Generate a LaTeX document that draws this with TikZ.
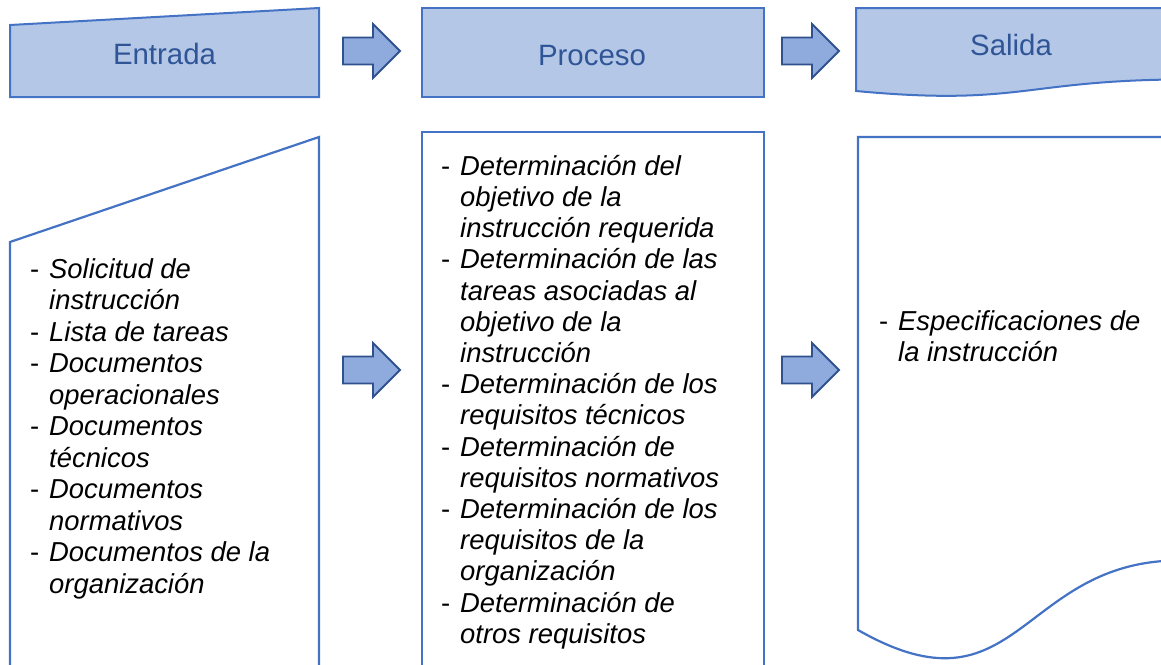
\documentclass[tikz,border=0pt]{standalone}
\usepackage{fontspec}
\setmainfont{Liberation Sans}
\definecolor{hdrfill}{HTML}{B4C7E7}
\definecolor{edgeblue}{HTML}{4472C4}
\definecolor{arrfill}{HTML}{8FAADC}
\definecolor{arredge}{HTML}{2F528F}
\definecolor{hdrtext}{HTML}{2F5597}
\newcommand\dashitem[1]{\strut\makebox[19pt][l]{-}\textit{#1}}
\newcommand\contitem[1]{\strut\hspace*{19pt}\textit{#1}}
\newcommand\blockarrowat[2]{%
  \draw[blockarr] (#1,#2-13.5) -- (#1+30,#2-13.5) -- (#1+30,#2-27) -- (#1+57,#2)
    -- (#1+30,#2+27) -- (#1+30,#2+13.5) -- (#1,#2+13.5) -- cycle;}
\begin{document}
\begin{tikzpicture}[x=1pt,y=-1pt,
  hdr/.style={fill=hdrfill,draw=edgeblue,line width=2pt,line join=miter},
  panel/.style={draw=edgeblue,line width=2.2pt,fill=white,line join=miter},
  blockarr/.style={fill=arrfill,draw=arredge,line width=1.8pt,line join=miter},
  hdrlabel/.style={font=\fontsize{29.4}{34}\selectfont,text=hdrtext,anchor=base,inner sep=0pt},
  listtext/.style={font=\fontsize{27.4}{31.5}\selectfont,align=left,anchor=north west,inner sep=0pt},
  proctext/.style={font=\fontsize{27.4}{31.2}\selectfont,align=left,anchor=north west,inner sep=0pt}]
\useasboundingbox (0,0) rectangle (1161,664);
\clip (0,0) rectangle (1161,664);
% headers
\draw[hdr] (10,25) -- (319,8) -- (319,97) -- (10,97) -- cycle;
\draw[hdr] (422,8) rectangle (764,97);
\draw[hdr] (856,8) -- (1190,8) -- (1190,79.4)
  .. controls (1023,79.4) and (1023,106.6) .. (856,91) -- cycle;
\node[hdrlabel] (hin) at (164.5,64.5) {Entrada};
\node[hdrlabel] (hproc) at (592,65) {Proceso};
\node[hdrlabel] (hout) at (1011,55) {Salida};
% header arrows
\blockarrowat{343}{51}
\blockarrowat{782}{51}
% panels
\draw[panel] (10,242) -- (319,137) -- (319,720) -- (10,720) -- cycle;
\draw[panel] (422,132) rectangle (764,720);
\draw[panel] (858,137) -- (1180,137) -- (1180,560.4)
  .. controls (1019,560.4) and (1019,721.8) .. (858,630) -- cycle;
% panel arrows
\blockarrowat{343}{370}
\blockarrowat{782}{370}
% lists
\node[listtext] (lin) at (30,255.95) {%
\dashitem{Solicitud de}\\
\contitem{instrucción}\\
\dashitem{Lista de tareas}\\
\dashitem{Documentos}\\
\contitem{operacionales}\\
\dashitem{Documentos}\\
\contitem{técnicos}\\
\dashitem{Documentos}\\
\contitem{normativos}\\
\dashitem{Documentos de la}\\
\contitem{organización}};
\node[proctext] (lproc) at (441,153.2) {%
\dashitem{Determinación del}\\
\contitem{objetivo de la}\\
\contitem{instrucción requerida}\\
\dashitem{Determinación de las}\\
\contitem{tareas asociadas al}\\
\contitem{objetivo de la}\\
\contitem{instrucción}\\
\dashitem{Determinación de los}\\
\contitem{requisitos técnicos}\\
\dashitem{Determinación de}\\
\contitem{requisitos normativos}\\
\dashitem{Determinación de los}\\
\contitem{requisitos de la}\\
\contitem{organización}\\
\dashitem{Determinación de}\\
\contitem{otros requisitos}};
\node[listtext] (lout) at (879,308) {%
\dashitem{Especificaciones de}\\
\contitem{la instrucción}};
\end{tikzpicture}
\end{document}
